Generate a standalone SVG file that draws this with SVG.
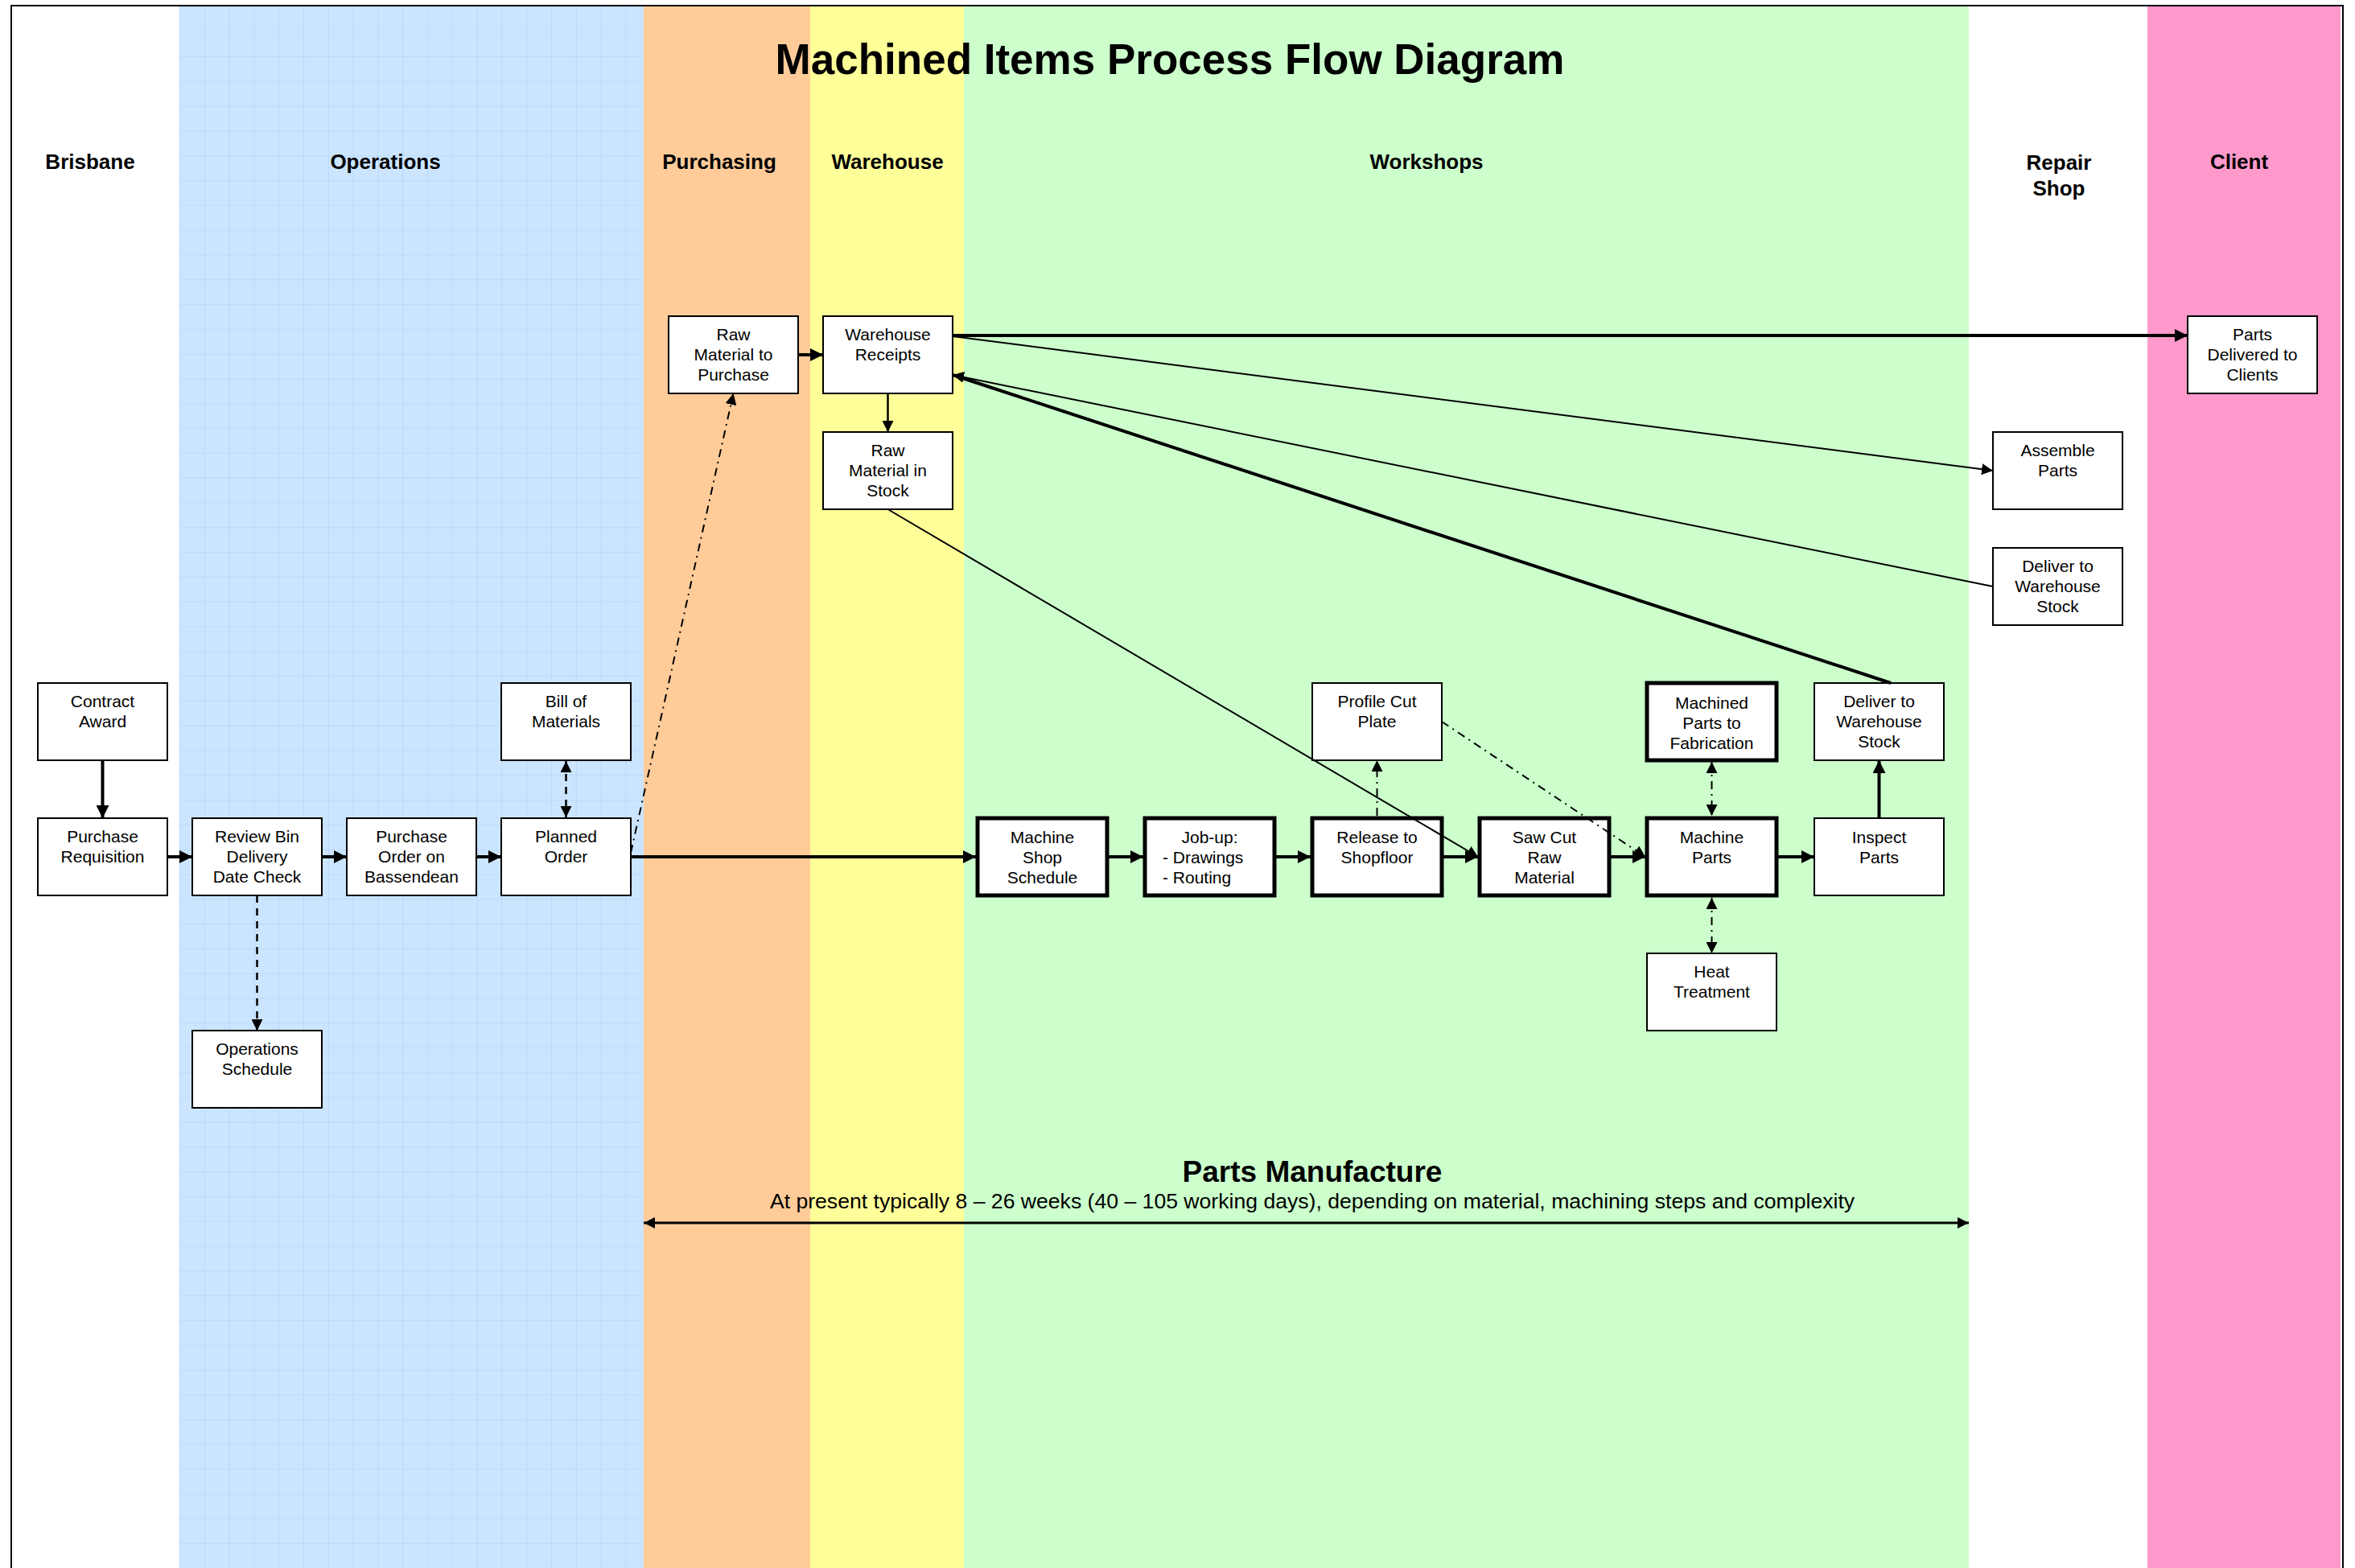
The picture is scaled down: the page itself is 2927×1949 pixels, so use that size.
<svg xmlns="http://www.w3.org/2000/svg" width="2927" height="1949" viewBox="0 0 2927 1949">
<style>
.lbl{font-family:"Liberation Sans",Arial,Helvetica,sans-serif;font-size:21px;fill:#000;text-anchor:middle}
.lst{font-family:"Liberation Sans",Arial,Helvetica,sans-serif;font-size:21px;fill:#000;text-anchor:start}
.hdr{font-family:"Liberation Sans",Arial,Helvetica,sans-serif;font-size:26px;font-weight:bold;fill:#000;text-anchor:middle}
.ttl{font-family:"Liberation Sans",Arial,Helvetica,sans-serif;font-size:53px;font-weight:bold;fill:#000;text-anchor:middle}
.sub{font-family:"Liberation Sans",Arial,Helvetica,sans-serif;font-size:37px;font-weight:bold;fill:#000;text-anchor:middle}
.note{font-family:"Liberation Sans",Arial,Helvetica,sans-serif;font-size:26.6px;fill:#000;text-anchor:middle}
.box{fill:#fff;stroke:#000;stroke-width:2}
.tbox{fill:#fff;stroke:#000;stroke-width:5}
.c{fill:none;stroke:#000}
.thick{stroke-width:4;marker-end:url(#ah)}
.thin{stroke-width:2;marker-end:url(#as)}
.dash{stroke-width:2.5;stroke-dasharray:9,7}
.dd{stroke-width:2;stroke-dasharray:10,6,2,6}
</style>
<defs>
<marker id="ah" viewBox="0 0 16 16" refX="16" refY="8" markerWidth="16" markerHeight="16" markerUnits="userSpaceOnUse" orient="auto-start-reverse">
<path d="M0,0 L16,8 L0,16 z" fill="#000"/>
</marker>
<marker id="as" viewBox="0 0 14 14" refX="14" refY="7" markerWidth="14" markerHeight="14" markerUnits="userSpaceOnUse" orient="auto-start-reverse">
<path d="M0,0 L14,7 L0,14 z" fill="#000"/>
</marker>
<pattern id="grid" x="223" y="8.5" width="30.8" height="30.8" patternUnits="userSpaceOnUse">
<path d="M0,0 H30.8 M0,0 V30.8" fill="none" stroke="#a8d0f8" stroke-width="1.2"/>
</pattern>
</defs>

<g id="lanes">
<rect x="0" y="0" width="2927" height="1949" fill="#fff"/>
<rect x="223" y="8" width="577" height="1941" fill="#cce5ff"/>
<rect x="223" y="8" width="577" height="1941" fill="url(#grid)"/>
<rect x="800" y="8" width="207" height="1941" fill="#ffcc99"/>
<rect x="1007" y="8" width="191" height="1941" fill="#ffff99"/>
<rect x="1198" y="8" width="1249" height="1941" fill="#ccffcc"/>
<rect x="2669" y="8" width="240" height="1941" fill="#ff99cc"/>
<rect x="14" y="7" width="2898" height="2010" fill="none" stroke="#000" stroke-width="2"/>
</g>

<g id="headers">
<text class="ttl" x="1454" y="92">Machined Items Process Flow Diagram</text>
<text class="hdr" x="112" y="210">Brisbane</text>
<text class="hdr" x="479" y="210">Operations</text>
<text class="hdr" x="894" y="210">Purchasing</text>
<text class="hdr" x="1103" y="210">Warehouse</text>
<text class="hdr" x="1773" y="210">Workshops</text>
<text class="hdr" x="2559" y="211">Repair</text>
<text class="hdr" x="2559" y="243">Shop</text>
<text class="hdr" x="2783" y="210">Client</text>
</g>

<g id="n-contract-award"><rect class="box" x="47" y="849" width="161" height="96"/><text class="lbl" x="127.5" y="879">Contract</text><text class="lbl" x="127.5" y="904">Award</text></g>
<g id="n-purchase-requisition"><rect class="box" x="47" y="1017" width="161" height="96"/><text class="lbl" x="127.5" y="1047">Purchase</text><text class="lbl" x="127.5" y="1072">Requisition</text></g>
<g id="n-review-bin"><rect class="box" x="239" y="1017" width="161" height="96"/><text class="lbl" x="319.5" y="1047">Review Bin</text><text class="lbl" x="319.5" y="1072">Delivery</text><text class="lbl" x="319.5" y="1097">Date Check</text></g>
<g id="n-purchase-order"><rect class="box" x="431" y="1017" width="161" height="96"/><text class="lbl" x="511.5" y="1047">Purchase</text><text class="lbl" x="511.5" y="1072">Order on</text><text class="lbl" x="511.5" y="1097">Bassendean</text></g>
<g id="n-planned-order"><rect class="box" x="623" y="1017" width="161" height="96"/><text class="lbl" x="703.5" y="1047">Planned</text><text class="lbl" x="703.5" y="1072">Order</text></g>
<g id="n-bill-of-materials"><rect class="box" x="623" y="849" width="161" height="96"/><text class="lbl" x="703.5" y="879">Bill of</text><text class="lbl" x="703.5" y="904">Materials</text></g>
<g id="n-operations-schedule"><rect class="box" x="239" y="1281" width="161" height="96"/><text class="lbl" x="319.5" y="1311">Operations</text><text class="lbl" x="319.5" y="1336">Schedule</text></g>
<g id="n-raw-material-to-purchase"><rect class="box" x="831" y="393" width="161" height="96"/><text class="lbl" x="911.5" y="423">Raw</text><text class="lbl" x="911.5" y="448">Material to</text><text class="lbl" x="911.5" y="473">Purchase</text></g>
<g id="n-warehouse-receipts"><rect class="box" x="1023" y="393" width="161" height="96"/><text class="lbl" x="1103.5" y="423">Warehouse</text><text class="lbl" x="1103.5" y="448">Receipts</text></g>
<g id="n-raw-material-in-stock"><rect class="box" x="1023" y="537" width="161" height="96"/><text class="lbl" x="1103.5" y="567">Raw</text><text class="lbl" x="1103.5" y="592">Material in</text><text class="lbl" x="1103.5" y="617">Stock</text></g>
<g id="n-machine-shop-schedule"><rect class="tbox" x="1215" y="1017" width="161" height="96"/><text class="lbl" x="1295.5" y="1048">Machine</text><text class="lbl" x="1295.5" y="1073">Shop</text><text class="lbl" x="1295.5" y="1098">Schedule</text></g>
<g id="n-job-up"><rect class="tbox" x="1423" y="1017" width="161" height="96"/><text class="lbl" x="1503.5" y="1048">Job-up:</text><text class="lst" x="1445" y="1073">- Drawings</text><text class="lst" x="1445" y="1098">- Routing</text></g>
<g id="n-release-to-shopfloor"><rect class="tbox" x="1631" y="1017" width="161" height="96"/><text class="lbl" x="1711.5" y="1048">Release to</text><text class="lbl" x="1711.5" y="1073">Shopfloor</text></g>
<g id="n-saw-cut"><rect class="tbox" x="1839" y="1017" width="161" height="96"/><text class="lbl" x="1919.5" y="1048">Saw Cut</text><text class="lbl" x="1919.5" y="1073">Raw</text><text class="lbl" x="1919.5" y="1098">Material</text></g>
<g id="n-machine-parts"><rect class="tbox" x="2047" y="1017" width="161" height="96"/><text class="lbl" x="2127.5" y="1048">Machine</text><text class="lbl" x="2127.5" y="1073">Parts</text></g>
<g id="n-inspect-parts"><rect class="box" x="2255" y="1017" width="161" height="96"/><text class="lbl" x="2335.5" y="1048">Inspect</text><text class="lbl" x="2335.5" y="1073">Parts</text></g>
<g id="n-profile-cut-plate"><rect class="box" x="1631" y="849" width="161" height="96"/><text class="lbl" x="1711.5" y="879">Profile Cut</text><text class="lbl" x="1711.5" y="904">Plate</text></g>
<g id="n-machined-parts-to-fabrication"><rect class="tbox" x="2047" y="849" width="161" height="96"/><text class="lbl" x="2127.5" y="881">Machined</text><text class="lbl" x="2127.5" y="906">Parts to</text><text class="lbl" x="2127.5" y="931">Fabrication</text></g>
<g id="n-deliver-ws-workshop"><rect class="box" x="2255" y="849" width="161" height="96"/><text class="lbl" x="2335.5" y="879">Deliver to</text><text class="lbl" x="2335.5" y="904">Warehouse</text><text class="lbl" x="2335.5" y="929">Stock</text></g>
<g id="n-heat-treatment"><rect class="box" x="2047" y="1185" width="161" height="96"/><text class="lbl" x="2127.5" y="1215">Heat</text><text class="lbl" x="2127.5" y="1240">Treatment</text></g>
<g id="n-parts-delivered"><rect class="box" x="2719" y="393" width="161" height="96"/><text class="lbl" x="2799.5" y="423">Parts</text><text class="lbl" x="2799.5" y="448">Delivered to</text><text class="lbl" x="2799.5" y="473">Clients</text></g>
<g id="n-assemble-parts"><rect class="box" x="2477" y="537" width="161" height="96"/><text class="lbl" x="2557.5" y="567">Assemble</text><text class="lbl" x="2557.5" y="592">Parts</text></g>
<g id="n-deliver-ws-repair"><rect class="box" x="2477" y="681" width="161" height="96"/><text class="lbl" x="2557.5" y="711">Deliver to</text><text class="lbl" x="2557.5" y="736">Warehouse</text><text class="lbl" x="2557.5" y="761">Stock</text></g>

<g id="connectors">
<path class="c thick" d="M127.5,945 V1017"/>
<path class="c thick" d="M208,1065 H239"/>
<path class="c thick" d="M400,1065 H431"/>
<path class="c thick" d="M592,1065 H623"/>
<path class="c dash" d="M703.5,946 V1016" marker-start="url(#as)" marker-end="url(#as)"/>
<path class="c dash" d="M319.5,1113 V1281" marker-end="url(#as)"/>
<path class="c dd" d="M784,1060 L911.5,489" marker-end="url(#as)"/>
<path class="c thick" d="M784,1065 H1213"/>
<path class="c thick" d="M992,441 H1023"/>
<path class="c" d="M1103.5,489 V537" stroke-width="2.5" marker-end="url(#as)"/>
<path class="c thick" d="M1184,417 H2719"/>
<path class="c thin" d="M1184,418 L2477,585"/>
<path class="c thin" d="M2477,729 L1184,466"/>
<path class="c" d="M2350,849 L1184,466" stroke-width="4"/>
<path class="c thin" d="M1103.5,633 L1837,1065"/>
<path class="c thick" d="M2335.5,1017 V945"/>
<path class="c dd" d="M2127.5,947 V1014" marker-start="url(#as)" marker-end="url(#as)"/>
<path class="c dd" d="M2127.5,1116 V1185" marker-start="url(#as)" marker-end="url(#as)"/>
<path class="c dd" d="M1711.5,1014 V945" marker-end="url(#as)"/>
<path class="c dd" d="M1792,897 L2045,1065" marker-end="url(#as)"/>
<path class="c thick" d="M1378,1065 H1421"/>
<path class="c thick" d="M1586,1065 H1629"/>
<path class="c thick" d="M1794,1065 H1837"/>
<path class="c thick" d="M2002,1065 H2045"/>
<path class="c thick" d="M2210,1065 H2255"/>
<path class="c" d="M800,1520 H2447" stroke-width="3" marker-start="url(#as)" marker-end="url(#as)"/>
</g>

<g id="annotation">
<text class="sub" x="1631" y="1469">Parts Manufacture</text>
<text class="note" x="1631" y="1502">At present typically 8 – 26 weeks (40 – 105 working days), depending on material, machining steps and complexity</text>
</g>
</svg>
